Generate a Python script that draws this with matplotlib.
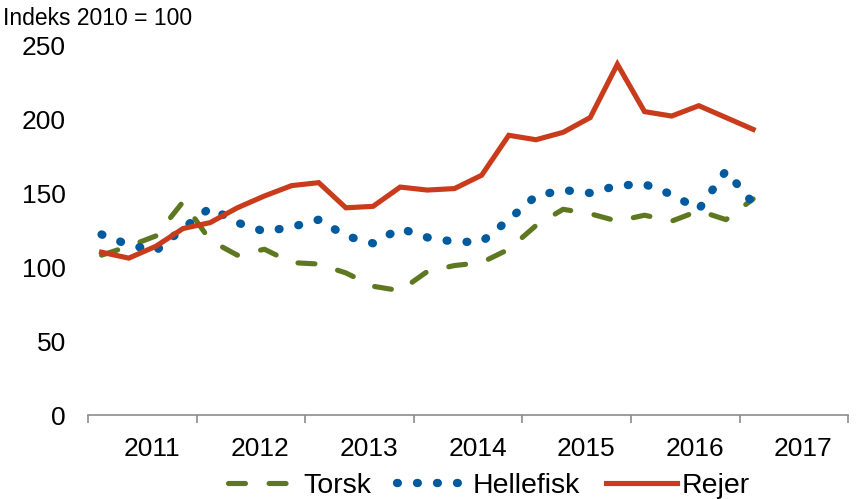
import numpy as np
import matplotlib
matplotlib.use("Agg")
import matplotlib.pyplot as plt
from matplotlib.ticker import FixedLocator, NullFormatter, FixedFormatter

plt.rcParams['font.family'] = ['Liberation Sans', 'DejaVu Sans']

# quarterly index values, 2011 Q1 .. 2017 Q1 (2010 = 100)
years = ["2011", "2012", "2013", "2014", "2015", "2016", "2017"]
torsk = [108, 114, 121, 144, 118, 108, 112, 103, 102, 96, 87, 84, 97,
         101, 103, 112, 128, 139, 136, 131, 135, 131, 138, 132, 146]
hellefisk = [122, 115, 111, 126, 140, 130, 124, 127, 132, 121, 116, 126, 120,
             117, 117, 132, 148, 152, 150, 155, 156, 149, 139, 165, 143]
rejer = [110, 106, 114, 126, 130, 140, 148, 155, 157, 140, 141, 154, 152,
         153, 162, 189, 186, 191, 201, 237, 205, 202, 209, 201, 193]

c_torsk = "#5e7821"
c_helle = "#005a9e"
c_rejer = "#c83c1c"

fig = plt.figure(figsize=(8.56, 4.99), dpi=100)
ax = fig.add_axes([0.1028, 0.1683, 0.888, 0.7415])

x = np.arange(len(rejer))
ax.plot(x, torsk, color=c_torsk, lw=3.7, linestyle=(0, (3.3, 4.6)),
        dash_capstyle="round", label="Torsk")
ax.plot(x, hellefisk, color=c_helle, lw=6.0, linestyle=(0, (0.1, 2.3)),
        dash_capstyle="round", label="Hellefisk")
ax.plot(x, rejer, color=c_rejer, lw=3.7, solid_joinstyle="miter",
        label="Rejer")

ax.set_ylim(0, 250)
ax.set_yticks([0, 50, 100, 150, 200, 250])
ax.tick_params(axis="y", length=0, pad=16, labelsize=19)

n_years = len(years)
ax.set_xlim(-0.5, 4 * n_years - 0.5)
ax.xaxis.set_major_locator(FixedLocator([4 * i - 0.5 for i in range(n_years + 1)]))
ax.xaxis.set_major_formatter(NullFormatter())
ax.xaxis.set_minor_locator(FixedLocator([4 * i + 1.85 for i in range(n_years)]))
ax.xaxis.set_minor_formatter(FixedFormatter(years))
ax.tick_params(axis="x", which="major", length=6, width=1.2, color="#8c8c8c", direction="out")
ax.tick_params(axis="x", which="minor", length=0, pad=16, labelsize=19)

for s in ["top", "right", "left"]:
    ax.spines[s].set_visible(False)
ax.spines["bottom"].set_color("#8c8c8c")
ax.spines["bottom"].set_linewidth(1.2)

fig.text(0.003, 0.985, "Indeks 2010 = 100", fontsize=16.5, va="top", ha="left")

fig.legend(loc="lower center", bbox_to_anchor=(0.571, 0.0), ncol=3,
           frameon=False, fontsize=20.5, handlelength=2.5, borderpad=0.0,
           borderaxespad=0.0, handletextpad=0.15, columnspacing=0.9)

fig.savefig("out.png", dpi=100)
